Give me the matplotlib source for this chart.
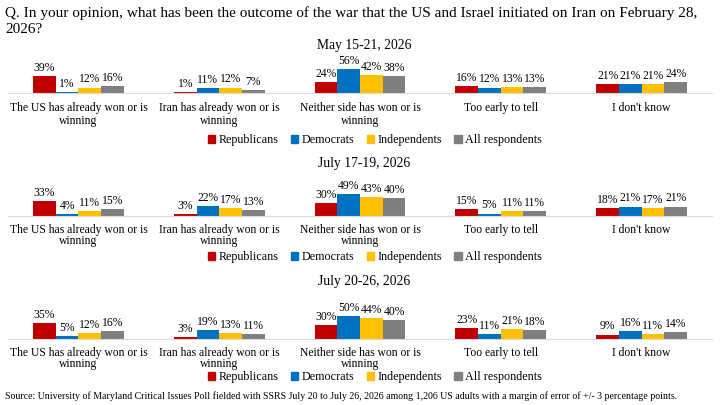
import matplotlib
matplotlib.use("Agg")
from matplotlib import pyplot as plt
from matplotlib.patches import Patch
import numpy as np

categories = ["The US has already won or is\nwinning",
              "Iran has already won or is\nwinning",
              "Neither side has won or is\nwinning",
              "Too early to tell",
              "I don't know"]
series = ["Republicans", "Democrats", "Independents", "All respondents"]
colors = ["#C00000", "#0070C0", "#FFC000", "#7F7F7F"]

panel_titles = ["May 15-21, 2026", "July 17-19, 2026", "July 20-26, 2026"]

may_rep = [39, 1, 24, 16, 21]
may_dem = [1, 11, 56, 12, 21]
may_ind = [12, 12, 42, 13, 21]
may_all = [16, 7, 38, 13, 24]

jul1_rep = [33, 3, 30, 15, 18]
jul1_dem = [4, 22, 49, 5, 21]
jul1_ind = [11, 17, 43, 11, 17]
jul1_all = [15, 13, 40, 11, 21]

jul2_rep = [35, 3, 30, 23, 9]
jul2_dem = [5, 19, 50, 11, 16]
jul2_ind = [12, 13, 44, 21, 11]
jul2_all = [16, 11, 40, 18, 14]

panels = [[may_rep, may_dem, may_ind, may_all],
          [jul1_rep, jul1_dem, jul1_ind, jul1_all],
          [jul2_rep, jul2_dem, jul2_ind, jul2_all]]

plt.rcParams['font.family'] = ['Liberation Serif', 'DejaVu Serif']

W, H = 720, 405
fig = plt.figure(figsize=(7.2, 4.05), dpi=100)

fig.text(5 / W, 1 - 6 / H,
         "Q. In your opinion, what has been the outcome of the war that the US and Israel initiated on Iran on February 28,\n2026?",
         ha="left", va="top", fontsize=11, linespacing=1.3)

# pixel layout of each panel: subtitle y, baseline y, legend y, px per percent, label pad, line spacing
layout = [(45, 92.7, 140, 0.43, 7, 1.1),
          (163, 215.7, 257, 0.435, 6, 0.92),
          (282, 338.7, 377, 0.46, 6, 0.92)]

ax_left, ax_right = 8, 712
axh = 32
bw = 0.161
x = np.arange(len(categories))

for p, (vals, (ty, base, ly, scale, pad, lsp)) in enumerate(zip(panels, layout)):
    ax = fig.add_axes([ax_left / W, 1 - base / H, (ax_right - ax_left) / W, axh / H])
    for i, (name, v) in enumerate(zip(series, vals)):
        pos = x + (i - 1.5) * bw
        bars = ax.bar(pos, v, width=bw, color=colors[i], label=name)
        for b, val in zip(bars, v):
            ax.annotate(f"{val}%", (b.get_x() + b.get_width() / 2, b.get_height()),
                        xytext=(0, 1.5), textcoords="offset points",
                        ha="center", va="bottom", fontsize=8.4)
    ax.set_xlim(-0.5, len(categories) - 0.5)
    ax.set_ylim(0, axh / scale)
    for s in ["top", "right", "left"]:
        ax.spines[s].set_visible(False)
    ax.spines["bottom"].set_color("#D9D9D9")
    ax.set_yticks([])
    ax.set_xticks(x)
    ax.set_xticklabels(categories, fontsize=8.4, linespacing=lsp)
    ax.tick_params(axis="x", length=0, pad=pad)

    fig.text(0.5 + 4 / W, 1 - ty / H, panel_titles[p], ha="center", va="center", fontsize=9.8)

    handles = [Patch(color=c) for c in colors]
    fig.legend(handles, series, loc="center", bbox_to_anchor=(375 / W, 1 - ly / H),
               ncol=4, frameon=False, fontsize=8.7, handlelength=0.6, handleheight=0.6,
               handletextpad=0.3, columnspacing=1.0, borderpad=0)

fig.text(5 / W, 1 - 396 / H,
         "Source: University of Maryland Critical Issues Poll fielded with SSRS July 20 to July 26, 2026 among 1,206 US adults with a margin of error of +/- 3 percentage points.",
         ha="left", va="center", fontsize=7.1)

fig.savefig("out.png", dpi=100)
